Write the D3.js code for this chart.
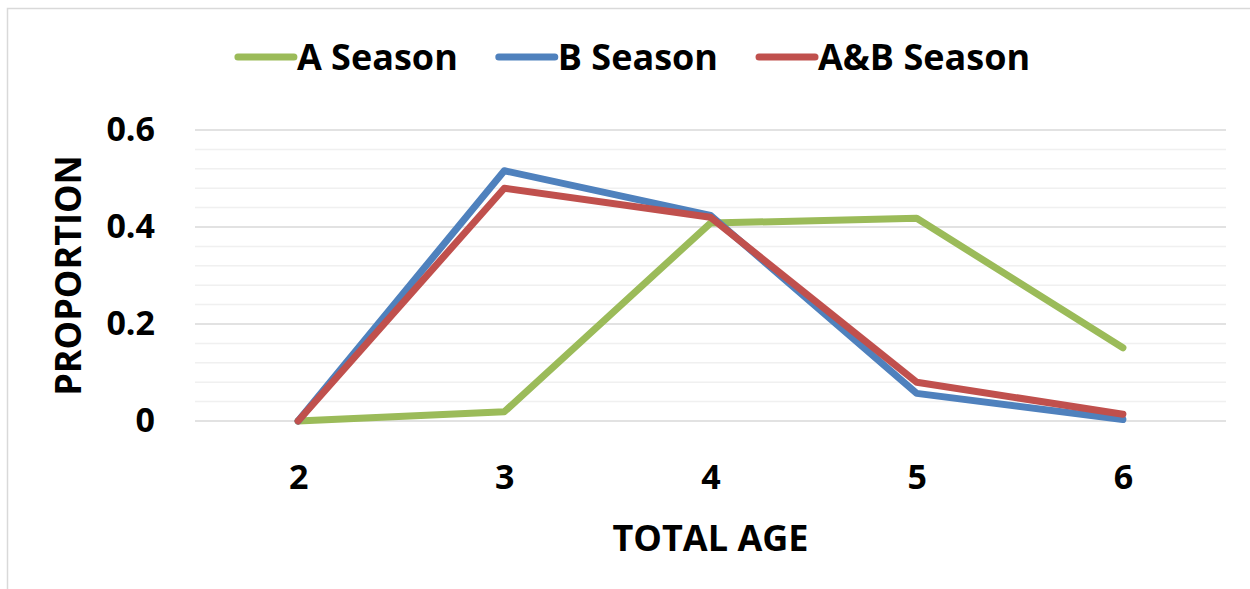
<!DOCTYPE html>
<html>
<head>
<meta charset="utf-8">
<script src="https://cdn.jsdelivr.net/npm/d3@7"></script>
<style>
  body { margin: 0; background: #fff; }
  text { font-family: 'Open Sans', Lato, sans-serif; font-weight: 700; fill: #000; }
</style>
</head>
<body>
<div id="chart"></div>
<script>
// Values
const ages = [2, 3, 4, 5, 6];
const seriesNames = ['A Season', 'B Season', 'A&B Season'];
const seriesColors = ['#9BBB59', '#4F81BD', '#C0504D'];
const aSeason = [0, 0.019, 0.408, 0.418, 0.151];
const bSeason = [0, 0.516, 0.424, 0.057, 0.003];
const abSeason = [0, 0.48, 0.42, 0.08, 0.014];
const yTicks = [0, 0.2, 0.4, 0.6];

const width = 1250;
const height = 589;
const plot = { left: 195, right: 1226, top: 130, bottom: 421 };
const tickFont = 34;
const titleFont = 36;

const svg = d3
  .select('#chart')
  .append('svg')
  .attr('width', width)
  .attr('height', height);

// Chart area border (only top and left edges are visible in the picture)
svg
  .append('path')
  .attr('d', `M7.5,${height} V8.5 H${width}`)
  .attr('fill', 'none')
  .attr('stroke', '#d9d9d9')
  .attr('stroke-width', 1.5);

const xscale = d3
  .scalePoint()
  .domain(ages)
  .range([plot.left, plot.right])
  .padding(0.5);

const yscale = d3
  .scaleLinear()
  .domain([0, 0.6])
  .range([plot.bottom, plot.top]);

// Minor gridlines every 0.04, major every 0.2
const minorTicks = d3.range(0, 0.6001, 0.04).filter(
  (v) => !yTicks.some((t) => Math.abs(t - v) < 1e-6),
);

svg
  .append('g')
  .selectAll('line')
  .data(minorTicks)
  .enter()
  .append('line')
  .attr('x1', plot.left)
  .attr('x2', plot.right)
  .attr('y1', (d) => yscale(d))
  .attr('y2', (d) => yscale(d))
  .attr('stroke', '#f0f0f0')
  .attr('stroke-width', 1.5);

svg
  .append('g')
  .selectAll('line')
  .data(yTicks)
  .enter()
  .append('line')
  .attr('x1', plot.left)
  .attr('x2', plot.right)
  .attr('y1', (d) => yscale(d))
  .attr('y2', (d) => yscale(d))
  .attr('stroke', '#d9d9d9')
  .attr('stroke-width', 1.5);

// Axes (ticks & domain hidden, labels only)
const yAxis = d3
  .axisLeft(yscale)
  .tickValues(yTicks)
  .tickSize(0)
  .tickPadding(0)
  .tickFormat((d) => (d === 0 ? '0' : d3.format('.1f')(d)));

const yAxisG = svg
  .append('g')
  .attr('transform', 'translate(155, 0)')
  .call(yAxis);
yAxisG.select('.domain').remove();
yAxisG
  .selectAll('text')
  .attr('font-size', tickFont)
  .attr('font-family', null);

const xAxis = d3.axisBottom(xscale).tickSize(0).tickPadding(0);

const xAxisG = svg
  .append('g')
  .attr('transform', `translate(0, 465)`)
  .call(xAxis);
xAxisG.select('.domain').remove();
xAxisG
  .selectAll('text')
  .attr('font-size', tickFont)
  .attr('font-family', null)
  .attr('dy', '0.71em');

// Series lines
const seriesData = [aSeason, bSeason, abSeason];
const line = d3
  .line()
  .x((d, i) => xscale(ages[i]))
  .y((d) => yscale(d));

svg
  .append('g')
  .selectAll('path')
  .data(seriesData)
  .enter()
  .append('path')
  .attr('d', line)
  .attr('fill', 'none')
  .attr('stroke', (d, i) => seriesColors[i])
  .attr('stroke-width', 7)
  .attr('stroke-linecap', 'round')
  .attr('stroke-linejoin', 'round');

// Axis titles
svg
  .append('text')
  .text('TOTAL AGE')
  .attr('x', (plot.left + plot.right) / 2)
  .attr('y', 551)
  .attr('text-anchor', 'middle')
  .attr('font-size', titleFont);

svg
  .append('text')
  .text('PROPORTION')
  .attr('transform', `translate(81, ${(plot.top + plot.bottom) / 2}) rotate(-90)`)
  .attr('text-anchor', 'middle')
  .attr('font-size', titleFont);

// Legend, laid out from the measured text widths and centred
const legend = svg.append('g');
const swatch = 56;
const items = seriesNames.map((name, i) => {
  const g = legend.append('g');
  g.append('line')
    .attr('x1', 0)
    .attr('x2', swatch)
    .attr('y1', 0)
    .attr('y2', 0)
    .attr('stroke', seriesColors[i])
    .attr('stroke-width', 7)
    .attr('stroke-linecap', 'round');
  const t = g
    .append('text')
    .text(name)
    .attr('x', swatch + 3)
    .attr('dy', '0.36em')
    .attr('font-size', titleFont);
  return { g, w: swatch + 3 + t.node().getComputedTextLength() };
});

const gap = 41;
const total = d3.sum(items, (d) => d.w) + gap * (items.length - 1);
let cursor = 634 - total / 2;
items.forEach((item) => {
  item.g.attr('transform', `translate(${cursor}, 57)`);
  cursor += item.w + gap;
});
</script>
</body>
</html>
